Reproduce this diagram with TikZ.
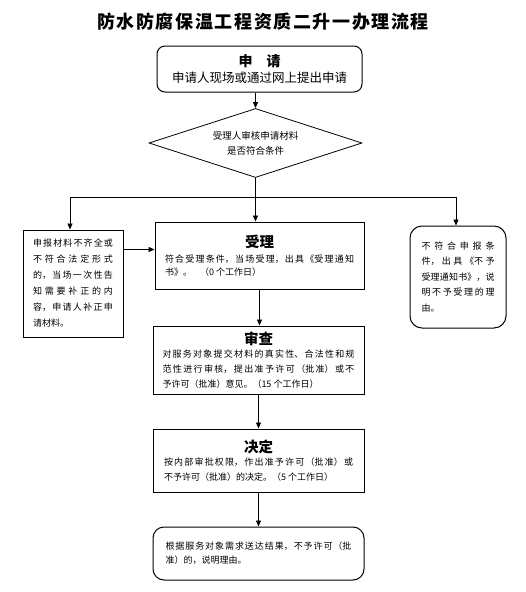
\documentclass[tikz,border=0pt]{standalone}
\usepackage{fontspec}
\setmainfont{Noto Sans CJK SC}
\XeTeXlinebreaklocale "zh"
\XeTeXlinebreakskip=0pt plus 4pt
\usetikzlibrary{shapes.geometric,arrows.meta}
\tikzset{
  box/.style={draw, line width=1pt, inner sep=0pt, align=justify, font=\fontsize{9}{15}\selectfont},
  roundbox/.style={box, rounded corners=9pt},
  arrow/.style={-{Triangle[length=6pt,width=5pt]}, line width=0.8pt},
  line/.style={line width=0.8pt},
}
\newcommand{\boxtitle}[2][0pt]{{\centering\fontsize{14.5}{17}\selectfont\bfseries #2\par}\vspace{#1}}
\begin{document}
\begin{tikzpicture}[x=1pt,y=-1pt]
    \fill[white] (0,0) rectangle (526,592);
    \useasboundingbox (0,0) rectangle (526,592);

    \node[font=\fontsize{18}{20}\selectfont\bfseries\addfontfeature{LetterSpace=9}] (title) at (263,22) {防水防腐保温工程资质二升一办理流程};

    \node[roundbox, rounded corners=8pt, minimum width=205pt, minimum height=46pt, align=center, font=\fontsize{12.5}{16}\selectfont] (apply) at (259.5,69) {{\fontsize{14}{16}\selectfont\bfseries 申　请}\\申请人现场或通过网上提出申请};

    \node[diamond, draw, line width=0.8pt, aspect=3.09, minimum width=213pt, minimum height=69pt, inner sep=0pt, align=center, font=\fontsize{9.5}{15}\selectfont] (check) at (255.5,143) {受理人审核申请材料\\是否符合条件};

    \coordinate (split) at (255.5,197);
    \coordinate (splitl) at (70,197);
    \coordinate (splitr) at (456,197);

    \node[box, text width=80pt, minimum width=100pt, minimum height=107pt, font=\fontsize{9}{16}\selectfont] (incomplete) at (73,283.5) {申报材料不齐全或\linebreak 不符合法定形式\linebreak 的，当场一次性告\linebreak 知需要补正的内\linebreak 容，申请人补正申\linebreak 请材料。};

    \node[box, text width=189pt, minimum width=209pt, minimum height=67pt, font=\fontsize{9}{13}\selectfont] (accept) at (259.5,255.5) {\boxtitle[2pt]{受理}符合受理条件，当场受理，出具《受理通知\linebreak 书》。\hspace{0.9em}（0 个工作日）\par\vspace{12pt}};

    \node[roundbox, rounded corners=12pt, text width=73pt, minimum width=96pt, minimum height=102pt, font=\fontsize{9}{15.5}\selectfont] (reject) at (458,277) {不符合申报条\linebreak 件，出具《不予\linebreak 受理通知书》，说\linebreak 明不予受理的理\linebreak 由。\par\vspace{9pt}};

    \node[box, text width=192pt, minimum width=211pt, minimum height=68pt] (review) at (258.5,360) {\boxtitle[-2pt]{审查}对服务对象提交材料的真实性、合法性和规\linebreak 范性进行审核，提出准予许可（批准）或不\linebreak 予许可（批准）意见。（15 个工作日）};

    \node[box, text width=189pt, minimum width=211pt, minimum height=63pt] (decide) at (258.5,460.5) {\boxtitle[-2pt]{决定}按内部审批权限，作出准予许可（批准）或\linebreak 不予许可（批准）的决定。（5 个工作日）\par\vspace{10pt}};

    \node[roundbox, rounded corners=11pt, text width=186pt, minimum width=211pt, minimum height=53pt, font=\fontsize{9}{14}\selectfont] (result) at (258.5,553.5) {根据服务对象需求送达结果，不予许可（批\linebreak 准）的，说明理由。\par\vspace{6pt}};

    \draw[arrow] (check.north |- apply.south) -- (check.north);
    \draw[line] (check.south) -- (split);
    \draw[line] (splitl) -- (splitr);
    \draw[arrow] (splitl) -- (splitl |- incomplete.north);
    \draw[arrow] (split) -- (split |- accept.north);
    \draw[arrow] (splitr) -- (splitr |- reject.north);
    \draw[arrow] ([yshift=-20pt]incomplete.north east) -- ([yshift=-20pt]incomplete.north east -| accept.west);
    \draw[arrow] (accept.south) -- (accept.south |- review.north);
    \draw[arrow] (review.south) -- (review.south |- decide.north);
    \draw[arrow] (decide.south) -- (decide.south |- result.north);
\end{tikzpicture}
\end{document}
